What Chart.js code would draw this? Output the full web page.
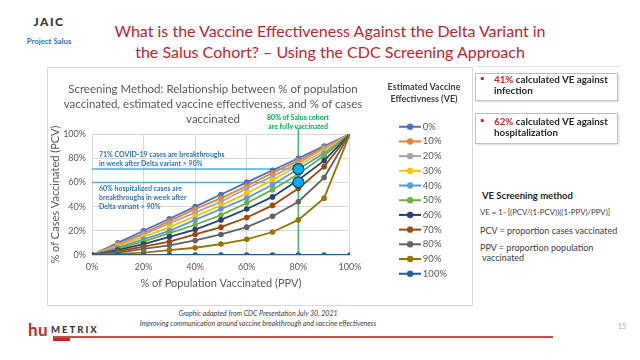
<!DOCTYPE html>
<html><head><meta charset="utf-8">
<script src="https://cdn.jsdelivr.net/npm/chart.js@4.4.1/dist/chart.umd.min.js"></script>
<style>
html,body{margin:0;padding:0}
body{width:640px;height:360px;overflow:hidden;background:#fff;font-family:Lato,"Open Sans",sans-serif;position:relative}
.t{position:absolute;white-space:nowrap;line-height:1}
.c{transform:translate(-50%,-50%)}
.m{transform:translateY(-50%)}
#frame{position:absolute;left:47px;top:67px;width:424px;height:237px;border:1px solid #D9D9D9}
#chart{position:absolute;left:0;top:0}
.box{position:absolute;left:475px;width:141px;border:1px solid #BFBFBF;box-shadow:1px 1px 2px rgba(0,0,0,0.15)}
.note{font-size:7px;font-weight:bold;color:#2E75B6}
.green{font-size:7px;font-weight:bold;color:#00B050}
.bx{font-size:9.8px;font-weight:bold;color:#262626}
.red{color:#C0262D}
.ve{font-size:9px;color:#404040}
.ft{font-size:7px;font-style:italic;color:#404040}
.lt{font-size:9px;font-weight:bold;color:#404040}
</style></head><body>

<!-- slide header -->
<div class="t c" style="left:49px;top:22px;font-size:12px;font-weight:900;letter-spacing:1.5px;color:#3a3a3a">JAIC</div>
<div class="t c" style="left:49px;top:42px;font-size:7.8px;font-weight:bold;color:#2E75B6">Project Salus</div>
<div class="t c" style="left:330px;top:31px;font-size:16px;color:#C0262D">What is the Vaccine Effectiveness Against the Delta Variant in</div>
<div class="t c" style="left:330px;top:52px;font-size:16px;color:#C0262D">the Salus Cohort? – Using the CDC Screening Approach</div>
<div style="position:absolute;left:476px;top:66px;width:145px;height:1px;background:#E3E3E3"></div>

<div id="frame"><canvas id="chart" width="424" height="237"></canvas></div>

<!-- chart title -->
<div class="t c" style="left:213px;top:89px;font-size:11.5px;color:#595959">Screening Method: Relationship between % of population</div>
<div class="t c" style="left:213px;top:104px;font-size:11.5px;color:#595959">vaccinated, estimated vaccine effectiveness, and % of cases</div>
<div class="t c" style="left:213px;top:119px;font-size:11.5px;color:#595959">vaccinated</div>

<!-- legend title -->
<div class="t c lt" style="left:424px;top:86px">Estimated Vaccine</div>
<div class="t c lt" style="left:424px;top:98px">Effectivness (VE)</div>

<!-- annotations -->
<div class="t c green" style="left:298px;top:117px">80% of Salus cohort</div>
<div class="t c green" style="left:298px;top:126px">are fully vaccinated</div>
<div class="t m note" style="left:99px;top:154px">71% COVID-19 cases are breakthroughs</div>
<div class="t m note" style="left:99px;top:163px">in week after Delta variant &gt; 90%</div>
<div class="t m note" style="left:99px;top:188px">60% hospitalized cases are</div>
<div class="t m note" style="left:99px;top:197px">breakthroughs in week after</div>
<div class="t m note" style="left:99px;top:206px">Delta variant &gt; 90%</div>

<!-- right panel -->
<div class="box" style="top:73px;height:26px"></div>
<div class="t m bx red" style="left:480px;top:79px">▪</div>
<div class="t m bx" style="left:494px;top:80px"><span class="red">41%</span> calculated VE against</div>
<div class="t m bx" style="left:494px;top:91px">infection</div>
<div class="box" style="top:113px;height:29px"></div>
<div class="t m bx red" style="left:480px;top:121px">▪</div>
<div class="t m bx" style="left:494px;top:122px"><span class="red">62%</span> calculated VE against</div>
<div class="t m bx" style="left:494px;top:133px">hospitalization</div>

<div class="t m" style="left:482px;top:196px;font-size:9.5px;font-weight:bold;color:#262626">VE Screening method</div>
<div class="t m" style="left:480px;top:213px;font-size:7.8px;color:#404040">VE = 1- [(PCV/(1-PCV))((1-PPV)/PPV)]</div>
<div class="t m ve" style="left:480px;top:230px">PCV = proportion cases vaccinated</div>
<div class="t m ve" style="left:480px;top:247px">PPV = proportion population</div>
<div class="t m ve" style="left:482px;top:257px">vaccinated</div>

<!-- footer -->
<div class="t c ft" style="left:258px;top:313px">Graphic adapted from CDC Presentation July 30, 2021</div>
<div class="t c ft" style="left:258px;top:323px">Improving communication around vaccine breakthrough and vaccine effectiveness</div>
<div class="t m" style="left:28px;top:329px;font-size:17px;font-weight:bold;color:#C62828;letter-spacing:0.5px">hu</div>
<div class="t m" style="left:51px;top:330px;font-size:9.5px;font-weight:900;color:#3a3a3a;letter-spacing:2px">METRIX</div>
<div style="position:absolute;left:53px;top:336px;width:500px;height:1.5px;background:#C0504D"></div>
<div style="position:absolute;left:53px;top:338px;width:17px;height:3px;background:#C62828"></div>
<div class="t m" style="left:618px;top:326px;font-size:7px;color:#A6A6A6">15</div>

<script>
// ---- data ----
const ppv = [0, 10, 20, 30, 40, 50, 60, 70, 80, 90, 100];
const veLabels = ['0%', '10%', '20%', '30%', '40%', '50%', '60%', '70%', '80%', '90%', '100%'];
const ve0   = [0, 10, 20, 30, 40, 50, 60, 70, 80, 90, 100];
const ve10  = [0, 9, 18, 28, 38, 47, 57, 68, 78, 89, 100];
const ve20  = [0, 8, 17, 26, 35, 44, 55, 65, 76, 88, 100];
const ve30  = [0, 7, 15, 23, 32, 41, 51, 62, 74, 86, 100];
const ve40  = [0, 6, 13, 20, 29, 38, 47, 58, 71, 84, 100];
const ve50  = [0, 5, 11, 18, 25, 33, 43, 54, 67, 82, 100];
const ve60  = [0, 4, 9, 15, 21, 29, 38, 48, 62, 78, 100];
const ve70  = [0, 3, 7, 11, 17, 23, 31, 41, 55, 73, 100];
const ve80  = [0, 2, 5, 8, 12, 17, 23, 32, 44, 64, 100];
const ve90  = [0, 1, 2, 4, 6, 9, 13, 19, 29, 47, 100];
const ve100 = [0, 0, 0, 0, 0, 0, 0, 0, 0, 0, 0];
const series = [ve0, ve10, ve20, ve30, ve40, ve50, ve60, ve70, ve80, ve90, ve100];
const infectionBreakthrough = 71;      // % of cases vaccinated
const hospitalBreakthrough = 60;
const cohortVaccinated = 80;           // % of population vaccinated
const guideTop = 105;
const yTicks = [0, 10, 20, 30, 40, 50, 60, 70, 80, 90, 100];
const xTicks = [0, 20, 40, 60, 80, 100];

const colors = ['#4472C4','#ED7D31','#A5A5A5','#FFC000','#5B9BD5','#70AD47','#264478','#9E480E','#636363','#997300','#255E91'];

function legendIcon(color){
  const c = document.createElement('canvas');
  c.width = 22; c.height = 8;
  const g = c.getContext('2d');
  g.strokeStyle = color; g.lineWidth = 2;
  g.beginPath(); g.moveTo(0,4); g.lineTo(22,4); g.stroke();
  g.fillStyle = color; g.beginPath(); g.arc(11,4,3.2,0,Math.PI*2); g.fill();
  return c;
}
const icons = colors.map(legendIcon);

const datasets = series.map((vals, i) => ({
  label: veLabels[i],
  data: vals.map((v, j) => ({x: ppv[j], y: v})),
  borderColor: colors[i],
  backgroundColor: colors[i],
  pointBackgroundColor: colors[i],
  pointBorderWidth: 0,
  borderWidth: 1.8,
  pointRadius: 2.8,
  order: 10 - i
}));
datasets.push({
  label: 'inf', data: [{x: 0, y: infectionBreakthrough}, {x: cohortVaccinated, y: infectionBreakthrough}],
  borderColor: '#4BB2E6', borderWidth: 1.5, pointRadius: 0, order: 20
});
datasets.push({
  label: 'hosp', data: [{x: 0, y: hospitalBreakthrough}, {x: cohortVaccinated, y: hospitalBreakthrough}],
  borderColor: '#4BB2E6', borderWidth: 1.5, pointRadius: 0, order: 20
});
datasets.push({
  label: 'cohort', data: [{x: cohortVaccinated, y: 0}, {x: cohortVaccinated, y: guideTop}],
  borderColor: '#3CB96A', borderWidth: 1.5, pointRadius: 0, order: 21, clip: false
});
datasets.push({
  label: 'mk', data: [{x: cohortVaccinated, y: infectionBreakthrough}, {x: cohortVaccinated, y: hospitalBreakthrough}],
  showLine: false, pointRadius: 5.5, pointBackgroundColor: '#00B0F0', pointBorderColor: '#1F3864',
  pointBorderWidth: 1.2, borderColor: '#1F3864', order: -1
});

const nSeries = series.length;
const tickFont = {family: 'Lato', size: 9};

new Chart(document.getElementById('chart'), {
  type: 'line',
  data: {datasets},
  options: {
    responsive: false,
    animation: false,
    events: [],
    layout: {padding: {left: 0, right: 15, top: 48.75, bottom: 0}},
    plugins: {
      tooltip: {enabled: false},
      title: {display: false},
      legend: {
        position: 'right',
        align: 'start',
        labels: {
          usePointStyle: true,
          pointStyleWidth: 16,
          boxHeight: 8,
          padding: 5.2,
          color: '#595959',
          font: {family: 'Lato', size: 9.5},
          generateLabels(chart) {
            return Chart.defaults.plugins.legend.labels.generateLabels(chart)
              .filter(l => l.datasetIndex < nSeries)
              .sort((a, b) => a.datasetIndex - b.datasetIndex)
              .map(l => Object.assign(l, {pointStyle: icons[l.datasetIndex]}));
          }
        }
      }
    },
    scales: {
      x: {
        type: 'linear', min: 0, max: 100,
        afterBuildTicks(s) { s.ticks = xTicks.map(v => ({value: v})); },
        ticks: {callback: v => v + '%', color: '#595959', font: tickFont, padding: 7, maxRotation: 0, autoSkip: false},
        grid: {color: '#D9D9D9', drawTicks: false},
        border: {display: false},
        title: {display: true, text: '% of Population Vaccinated (PPV)', color: '#595959',
                font: {family: 'Lato', size: 11}, padding: {top: 0, bottom: 15.4}},
        afterFit(s) { s.height = 50; }
      },
      y: {
        type: 'linear', min: 0, max: 100,
        afterBuildTicks(s) { s.ticks = yTicks.map(v => ({value: v})); },
        ticks: {callback: v => v + '%', color: '#595959', font: tickFont, padding: 6},
        grid: {color: '#D9D9D9', drawTicks: false},
        border: {display: false},
        title: {display: true, text: '% of Cases Vaccinated (PCV)', color: '#595959',
                font: {family: 'Lato', size: 11}, padding: {top: 0.5, bottom: 0}},
        afterFit(s) { s.width = 44; }
      },
      xTop: {
        type: 'linear', position: 'top', display: true,
        grid: {display: false}, ticks: {display: false}, border: {display: false},
        afterFit(s) { s.height = 17.25; }
      },
      yRight: {
        type: 'linear', position: 'right', display: true,
        grid: {display: false}, ticks: {display: false}, border: {display: false},
        afterFit(s) { s.width = 47; }
      }
    }
  }
});
</script>
</body></html>
